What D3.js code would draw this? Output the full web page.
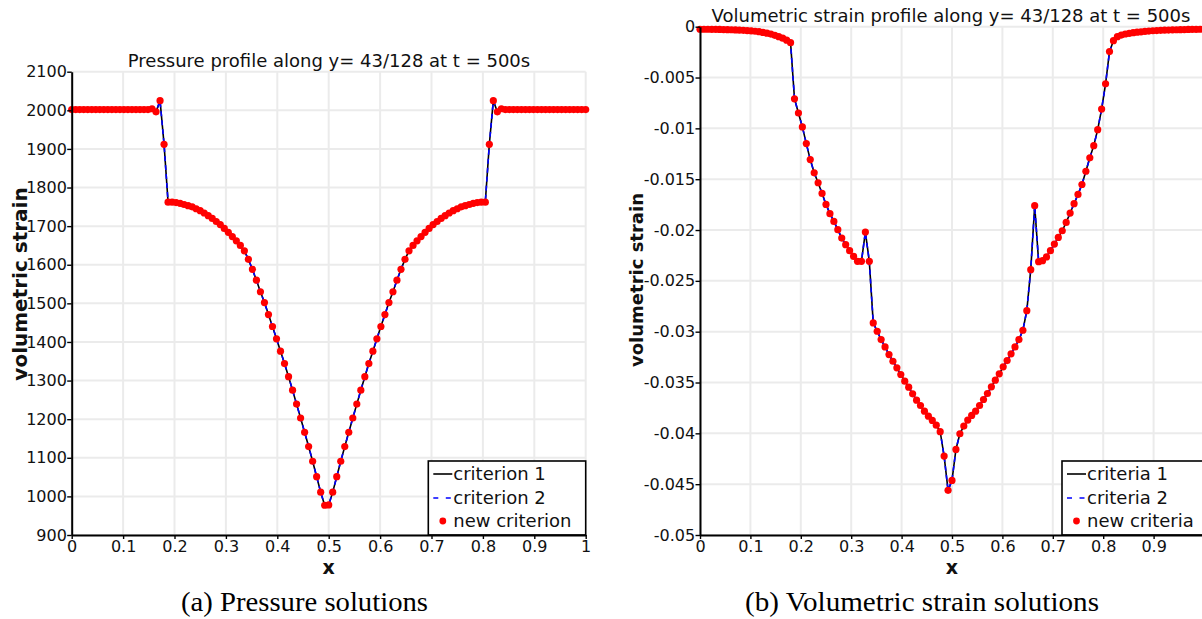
<!DOCTYPE html>
<html>
<head>
<meta charset="utf-8">
<script src="https://cdn.jsdelivr.net/npm/d3@7/dist/d3.min.js"></script>
<style>
  html, body { margin: 0; padding: 0; background: #ffffff; }
  svg { display: block; }
</style>
</head>
<body>
<svg id="fig" width="1202" height="619"></svg>
<script>
// ---- data ---------------------------------------------------------------
// Profiles sampled at the 129 grid nodes x = i / 128 along y = 43/128, t = 500 s.
// All three criteria give the same profile at plotting resolution.
const nodeCount = 128;

const pressure = [
  2002, 2002, 2002, 2002, 2002, 2002, 2002, 2002, 2002, 2002,
  2002, 2002, 2002, 2002, 2002, 2002, 2002, 2002, 2002, 2002,
  2004, 1996, 2025, 1912, 1762, 1762, 1761, 1759, 1756, 1753,
  1750, 1745, 1740, 1734, 1727, 1720, 1712, 1704, 1694, 1684,
  1673, 1662, 1650, 1636, 1614, 1588, 1560, 1530, 1502, 1471,
  1440, 1408, 1376, 1344, 1310, 1275, 1239, 1203, 1166, 1129,
  1091, 1051, 1011, 977, 978, 1011, 1051, 1091, 1129, 1166,
  1203, 1239, 1275, 1310, 1344, 1376, 1408, 1440, 1471, 1502,
  1530, 1560, 1588, 1614, 1636, 1650, 1662, 1673, 1684, 1694,
  1704, 1712, 1720, 1727, 1734, 1740, 1745, 1750, 1753, 1756,
  1759, 1761, 1762, 1762, 1912, 2025, 1996, 2004, 2002, 2002,
  2002, 2002, 2002, 2002, 2002, 2002, 2002, 2002, 2002, 2002,
  2002, 2002, 2002, 2002, 2002, 2002, 2002, 2002, 2002
];

const strain = [
  -0.00025, -0.00025, -0.00025, -0.00026, -0.00026, -0.00027, -0.00028, -0.00029, -0.0003, -0.00032,
  -0.00034, -0.00036, -0.00039, -0.00042, -0.00045, -0.00049, -0.00056, -0.00064, -0.00073, -0.00085,
  -0.00098, -0.00113, -0.00133, -0.00157, -0.00709, -0.00849, -0.00986, -0.0115, -0.01307, -0.01437,
  -0.01535, -0.0164, -0.01748, -0.01839, -0.01915, -0.01997, -0.02079, -0.02144, -0.02203, -0.02259,
  -0.02308, -0.02308, -0.0202, -0.02308, -0.02914, -0.02996, -0.03078, -0.0315, -0.03225, -0.03291,
  -0.03356, -0.03421, -0.03487, -0.03546, -0.03611, -0.03674, -0.03726, -0.03782, -0.03831, -0.03873,
  -0.0392, -0.03984, -0.04224, -0.04561, -0.04463, -0.04158, -0.04004, -0.03929, -0.0387, -0.03824,
  -0.03782, -0.03726, -0.03667, -0.03608, -0.03542, -0.03477, -0.03415, -0.03346, -0.03284, -0.03218,
  -0.0315, -0.03078, -0.02986, -0.02793, -0.0239, -0.01761, -0.02311, -0.02302, -0.02265, -0.02203,
  -0.02138, -0.02073, -0.02007, -0.01925, -0.01833, -0.01741, -0.0165, -0.01552, -0.01422, -0.0129,
  -0.0117, -0.01013, -0.0081, -0.00562, -0.00245, -0.00137, -0.00098, -0.00082, -0.00072, -0.00065,
  -0.00059, -0.00054, -0.0005, -0.00046, -0.00043, -0.0004, -0.00038, -0.00036, -0.00034, -0.00033,
  -0.00031, -0.0003, -0.00029, -0.00028, -0.00027, -0.00026, -0.00026, -0.00025, -0.00025
];

const xTicks = [0, 0.1, 0.2, 0.3, 0.4, 0.5, 0.6, 0.7, 0.8, 0.9, 1];
const pressureTicks = [900, 1000, 1100, 1200, 1300, 1400, 1500, 1600, 1700, 1800, 1900, 2000, 2100];
const strainTicks = [-0.05, -0.045, -0.04, -0.035, -0.03, -0.025, -0.02, -0.015, -0.01, -0.005, 0];

const pressureLegend = ["criterion 1", "criterion 2", "new criterion"];
const strainLegend = ["criteria 1", "criteria 2", "new criteria"];

// ---- drawing ------------------------------------------------------------
const SANS = "'DejaVu Sans', sans-serif";
const SERIF = "'Liberation Serif', 'Times New Roman', serif";
const svg = d3.select("#fig");

function fmtTick(d) {
  // plain hyphen-minus, shortest decimal form
  return String(+d.toFixed(4));
}

function drawPanel(p) {
  const x = d3.scaleLinear().domain([0, 1]).range(p.xRange);
  const y = d3.scaleLinear().domain(p.yDomain).range(p.yRange);
  const g = svg.append("g");

  // grid
  const grid = g.append("g").attr("stroke", "#ebebeb").attr("stroke-width", 2);
  grid.selectAll("line.v").data(xTicks).join("line")
    .attr("x1", d => x(d)).attr("x2", d => x(d))
    .attr("y1", y(p.yDomain[0])).attr("y2", y(p.yDomain[1]));
  grid.selectAll("line.h").data(p.yTicks).join("line")
    .attr("x1", x(0)).attr("x2", x(1))
    .attr("y1", d => y(d)).attr("y2", d => y(d));

  const xs = (v, i) => x(i / nodeCount);

  // criterion 1: black solid
  g.append("path").datum(p.values)
    .attr("fill", "none").attr("stroke", "#000000").attr("stroke-width", 1.6)
    .attr("d", d3.line().x(xs).y(v => y(v)));
  // criterion 2: blue dashed
  g.append("path").datum(p.values)
    .attr("fill", "none").attr("stroke", "#0000ff").attr("stroke-width", 1.6)
    .attr("stroke-dasharray", "5,4")
    .attr("d", d3.line().x(xs).y(v => y(v)));
  // new criterion: red points
  g.append("g").selectAll("circle").data(p.values).join("circle")
    .attr("cx", xs).attr("cy", v => y(v)).attr("r", 3.6).attr("fill", "#ff0000");

  // legend
  const lg = g.append("g").attr("transform", `translate(${p.legendX},${p.legendY})`);
  lg.append("rect").attr("x", 0).attr("y", 0)
    .attr("width", p.legendW).attr("height", y(p.yDomain[0]) - p.legendY)
    .attr("fill", "#ffffff").attr("stroke", "#000000").attr("stroke-width", 1.6);
  lg.append("line").attr("x1", 5).attr("x2", 24).attr("y1", 13).attr("y2", 13)
    .attr("stroke", "#000").attr("stroke-width", 1.6);
  lg.append("line").attr("x1", 5).attr("x2", 24).attr("y1", 37).attr("y2", 37)
    .attr("stroke", "#0000ff").attr("stroke-width", 1.6).attr("stroke-dasharray", "5,7.5");
  lg.append("circle").attr("cx", 14.5).attr("cy", 60).attr("r", 3.4).attr("fill", "#ff0000");
  lg.selectAll("text").data(p.legend).join("text")
    .attr("x", 25).attr("y", (d, i) => 19 + i * 23.5)
    .attr("font-family", SANS).attr("font-size", 18).attr("fill", "#111")
    .text(d => d);

  // axes
  const ax = g.append("g").attr("transform", `translate(${x(0)},0)`)
    .call(d3.axisLeft(y).tickValues(p.yTicks).tickFormat(fmtTick)
      .tickSize(4.5).tickSizeOuter(0).tickPadding(0.3));
  const bx = g.append("g").attr("transform", `translate(0,${y(p.yDomain[0])})`)
    .call(d3.axisBottom(x).tickValues(xTicks)
      .tickFormat(d => (x(d) > p.labelLimit ? "" : fmtTick(d)))
      .tickSize(4).tickSizeOuter(0).tickPadding(1.5));
  [ax, bx].forEach(a => {
    a.select(".domain").attr("stroke", "#000").attr("stroke-width", 2);
    a.selectAll(".tick line").attr("stroke", "#000").attr("stroke-width", 1.4);
    a.selectAll(".tick text").attr("font-family", SANS).attr("font-size", 16).attr("fill", "#111");
  });

  // title
  g.append("text").attr("x", p.titleX).attr("y", p.titleY)
    .attr("text-anchor", "middle").attr("font-family", SANS).attr("font-size", 18)
    .attr("fill", "#111").text(p.title);

  // axis titles
  g.append("text").attr("x", x(0.5)).attr("y", 574)
    .attr("text-anchor", "middle").attr("font-family", SANS).attr("font-weight", "bold")
    .attr("font-size", 19).attr("fill", "#111").text("x");
  g.append("text")
    .attr("transform", `translate(${p.yLabelX},${p.yLabelY}) rotate(-90)`)
    .attr("text-anchor", "middle").attr("font-family", SANS).attr("font-weight", "bold")
    .attr("font-size", p.yLabelSize).attr("fill", "#111").text("volumetric strain");

  // caption
  g.append("text").attr("x", p.captionX).attr("y", 611)
    .attr("text-anchor", "middle").attr("font-family", SERIF).attr("font-size", 27)
    .attr("textLength", p.captionW).attr("lengthAdjust", "spacingAndGlyphs")
    .attr("fill", "#000").text(p.caption);
}

drawPanel({
  values: pressure,
  xRange: [71.7, 585.7],
  yDomain: [900, 2100], yRange: [535, 71.7],
  yTicks: pressureTicks,
  labelLimit: 1202,
  legend: pressureLegend,
  legendX: 428.3, legendY: 461, legendW: 157.4,
  title: "Pressure profile along y= 43/128 at t = 500s",
  titleX: 329, titleY: 66.7,
  yLabelX: 27, yLabelY: 284, yLabelSize: 20,
  caption: "(a) Pressure solutions", captionX: 304.5, captionW: 247
});

drawPanel({
  values: strain,
  xRange: [700, 1204],
  yDomain: [-0.05, 0], yRange: [535, 26.7],
  yTicks: strainTicks,
  labelLimit: 1195,
  legend: strainLegend,
  legendX: 1062, legendY: 461, legendW: 160,
  title: "Volumetric strain profile along y= 43/128 at t = 500s",
  titleX: 951, titleY: 21.7,
  yLabelX: 643, yLabelY: 280, yLabelSize: 18,
  caption: "(b) Volumetric strain solutions", captionX: 922, captionW: 354
});
</script>
</body>
</html>
